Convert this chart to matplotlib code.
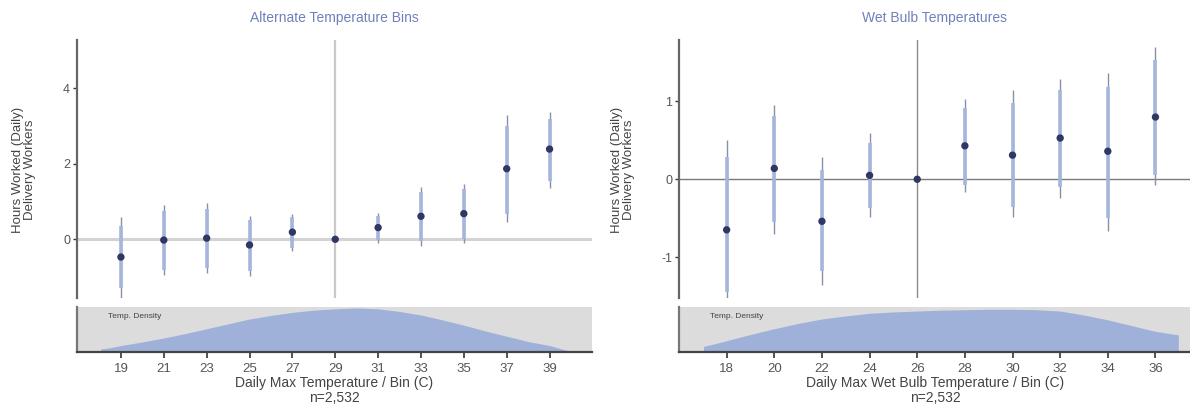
import numpy as np
import matplotlib
matplotlib.use("Agg")
import matplotlib.pyplot as plt

plt.rcParams['font.family'] = ['Liberation Sans', 'DejaVu Sans']
plt.rcParams['axes.unicode_minus'] = False

# panel 1: alternate temperature bins
bins_l = [19, 21, 23, 25, 27, 29, 31, 33, 35, 37, 39]
est_l = [-0.47, -0.02, 0.03, -0.15, 0.19, 0.0, 0.31, 0.61, 0.68, 1.87, 2.39]
lo95_l = [-1.6, -0.95, -0.9, -0.98, -0.31, 0.0, -0.1, -0.18, -0.1, 0.45, 1.37]
hi95_l = [0.58, 0.92, 0.97, 0.63, 0.68, 0.0, 0.7, 1.39, 1.47, 3.29, 3.38]
lo90_l = [-1.3, -0.8, -0.75, -0.85, -0.23, 0.0, -0.03, -0.05, 0.02, 0.68, 1.55]
hi90_l = [0.35, 0.75, 0.8, 0.52, 0.6, 0.0, 0.63, 1.25, 1.33, 3.0, 3.2]
dens_x_l = [18.05, 18.5, 19, 20, 21, 22, 23, 24, 25, 26, 27, 28, 29, 30, 31, 32, 33,
            34, 35, 36, 37, 38, 39, 39.5, 39.9]
dens_y_l = [0.06, 0.09, 0.14, 0.22, 0.31, 0.41, 0.52, 0.63, 0.74, 0.82, 0.89, 0.94,
            0.97, 0.99, 0.97, 0.91, 0.83, 0.72, 0.6, 0.47, 0.35, 0.23, 0.14, 0.07, 0.02]

# panel 2: wet bulb temperatures
bins_r = [18, 20, 22, 24, 26, 28, 30, 32, 34, 36]
est_r = [-0.65, 0.14, -0.54, 0.05, 0.0, 0.43, 0.31, 0.53, 0.36, 0.8]
lo95_r = [-1.6, -0.7, -1.36, -0.49, 0.0, -0.16, -0.49, -0.24, -0.66, -0.08]
hi95_r = [0.5, 0.96, 0.29, 0.6, 0.0, 1.03, 1.15, 1.29, 1.37, 1.7]
lo90_r = [-1.45, -0.55, -1.18, -0.37, 0.0, -0.08, -0.35, -0.1, -0.5, 0.05]
hi90_r = [0.29, 0.81, 0.12, 0.47, 0.0, 0.92, 0.98, 1.15, 1.18, 1.53]
dens_x_r = [17.03, 17.5, 18, 19, 20, 21, 22, 23, 24, 25, 26, 27, 28, 29, 30, 31, 32,
            33, 34, 35, 36, 36.96]
dens_y_r = [0.12, 0.18, 0.25, 0.39, 0.52, 0.64, 0.74, 0.81, 0.87, 0.9, 0.92, 0.94,
            0.95, 0.96, 0.96, 0.95, 0.92, 0.83, 0.72, 0.59, 0.46, 0.38]

titles = ["Alternate Temperature Bins", "Wet Bulb Temperatures"]
xlabels = ["Daily Max Temperature / Bin (C)", "Daily Max Wet Bulb Temperature / Bin (C)"]
ylabel = "Hours Worked (Daily)\nDelivery Workers"
n_label = "n=2,532"

W, H = 1190, 419
fig = plt.figure(figsize=(W / 100, H / 100), dpi=100)

def frac(x0, y0, x1, y1):
    return [x0 / W, 1 - y1 / H, (x1 - x0) / W, (y1 - y0) / H]

navy = "#2e3862"
inner_c = "#a5b5dc"
outer_c = "#8890a8"
grey_txt = "#555555"

panels = [
    dict(bins=bins_l, est=est_l, lo95=lo95_l, hi95=hi95_l, lo90=lo90_l, hi90=hi90_l,
         dx=dens_x_l, dy=dens_y_l, x0=77, x1=592, xlim=(16.95, 40.98), ylim=(-1.555, 5.28),
         yticks=[0, 2, 4], ref=29, refc="#c9c9c9", refw=1.6, zc="#d3d3d3", zw=2.2,
         ylx=24),
    dict(bins=bins_r, est=est_r, lo95=lo95_r, hi95=hi95_r, lo90=lo90_r, hi90=hi90_r,
         dx=dens_x_r, dy=dens_y_r, x0=679, x1=1190, xlim=(16.0, 37.45), ylim=(-1.526, 1.79),
         yticks=[-1, 0, 1], ref=26, refc="#8a8a8a", refw=1.0, zc="#7a7a7a", zw=1.0,
         ylx=623),
]

for i, p in enumerate(panels):
    ax = fig.add_axes(frac(p["x0"], 40, p["x1"], 298))
    ax.set_xlim(*p["xlim"])
    ax.set_ylim(*p["ylim"])
    ax.axhline(0, color=p["zc"], lw=p["zw"], zorder=1)
    ax.axvline(p["ref"], color=p["refc"], lw=p["refw"], zorder=1)
    ax.vlines(p["bins"], p["lo95"], p["hi95"], color=outer_c, lw=1.0, zorder=2)
    ax.vlines(p["bins"], p["lo90"], p["hi90"], color=inner_c, lw=2.6, zorder=3)
    ax.scatter(p["bins"], p["est"], s=28, color=navy, zorder=4, edgecolors="none")
    for s in ["top", "right", "bottom"]:
        ax.spines[s].set_visible(False)
    ax.spines["left"].set_color("#666666")
    ax.spines["left"].set_linewidth(1.6)
    ax.set_xticks([])
    ax.set_yticks(p["yticks"])
    ax.tick_params(axis="y", length=3, width=1, color="#333333", labelcolor=grey_txt,
                   labelsize=9, pad=2)
    ax.set_title(titles[i], color="#7080bb", fontsize=10, pad=13)
    fig.text(p["ylx"] / W, 1 - 170 / H, ylabel, rotation=90, ha="center", va="center",
             color="#444444", fontsize=9.5, linespacing=1.0)

    axd = fig.add_axes(frac(p["x0"], 307.5, p["x1"], 351.7))
    axd.set_facecolor("#dcdcdc")
    axd.fill_between(p["dx"], 0, p["dy"], color="#9fb1d9", lw=0)
    axd.set_xlim(*p["xlim"])
    axd.set_ylim(0, 1.0)
    axd.set_yticks([])
    axd.set_xticks(p["bins"])
    axd.tick_params(axis="x", length=4, width=1.2, color="#333333", labelcolor=grey_txt,
                    labelsize=9.5, pad=4)
    for s in ["top", "right"]:
        axd.spines[s].set_visible(False)
    axd.spines["left"].set_color("#777777")
    axd.spines["left"].set_linewidth(1.6)
    axd.spines["bottom"].set_color("#444444")
    axd.spines["bottom"].set_linewidth(1.6)
    axd.text(0.06, 0.88, "Temp. Density", transform=axd.transAxes, fontsize=6,
             color="#444444", ha="left", va="top")
    cx = (p["x0"] + p["x1"]) / 2 if i == 0 else 935
    fig.text(cx / W, 1 - 383 / H, xlabels[i], ha="center", va="center",
             color="#444444", fontsize=10)
    fig.text(cx / W, 1 - 398 / H, n_label, ha="center", va="center",
             color="#444444", fontsize=10)

fig.savefig("out.png", dpi=100)
